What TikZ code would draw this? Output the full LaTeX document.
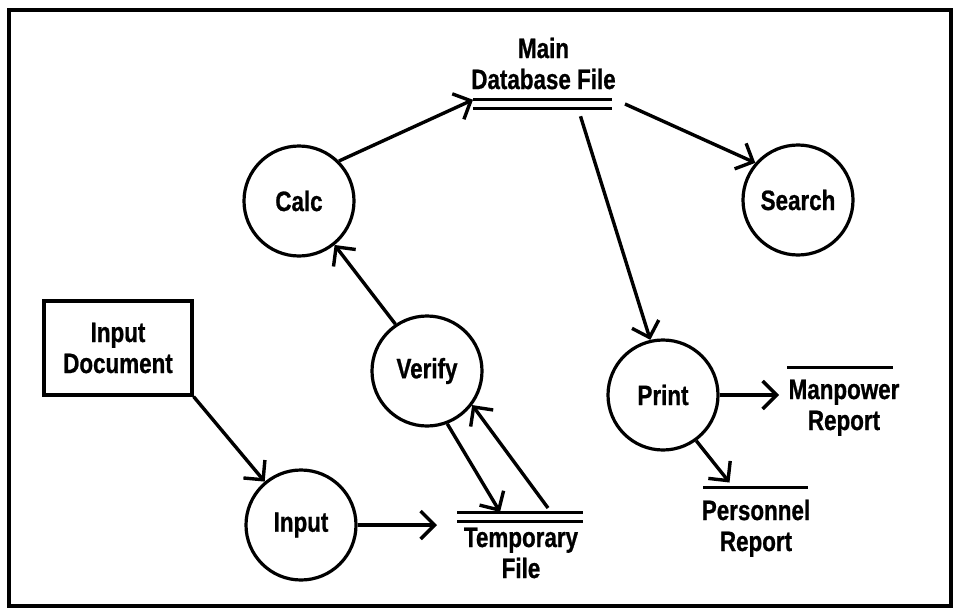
\documentclass[tikz,border=0pt]{standalone}
\usepackage{fontspec}
\setmainfont{Liberation Sans}[FakeStretch=0.8,BoldFeatures={FakeBold=0.8}]
\usetikzlibrary{arrows.meta}
\begin{document}
\begin{tikzpicture}[x=1pt,y=-1pt,
  every node/.style={font=\fontsize{28}{31}\selectfont\bfseries},
  proc/.style={circle,draw,line width=3.2pt,minimum size=110pt,inner sep=0pt},
  store/.style={rectangle,draw=none,inner sep=0pt,outer sep=0pt},
  storeline/.style={line width=3pt},
  flow/.style={line width=3.4pt,-{Straight Barb[length=14pt,width=28pt]}},
  lbl/.style={align=center,inner sep=0pt,anchor=base}]
\useasboundingbox (0,0) rectangle (957,610);
% outer frame
\draw[line width=4.5pt] (9,10) rectangle (951,606);

% processes
\node[proc] (calc)   at (299,201) {Calc};
\node[proc] (search) at (798,200) {Search};
\node[proc] (verify) at (427,371) {Verify};
\node[proc] (print)  at (663,395) {Print};
\node[proc] (input)  at (301,525) {Input};

% external entity
\node[draw,line width=3.2pt,align=center,inner sep=0pt,minimum width=148pt,minimum height=94pt] (doc) at (118,348) {Input\\Document};

% data stores
\node[store,minimum width=139pt,minimum height=8.5pt] (db) at (542.5,104) {};
\draw[storeline] (db.north west) -- (db.north east) (db.south west) -- (db.south east);
\node[store,minimum width=126pt,minimum height=9pt] (tmp) at (520,516.5) {};
\draw[storeline] (tmp.north west) -- (tmp.north east) (tmp.south west) -- (tmp.south east);
\node[store,minimum width=106pt] (mp) at (840,367) {};
\draw[storeline] (mp.west) -- (mp.east);
\node[store,minimum width=105pt] (pr) at (755.5,487) {};
\draw[storeline] (pr.west) -- (pr.east);

% store labels (anchored on the baseline of their last line)
\node[lbl] (dbtext)  at (543.5,89) {Main\\Database File};
\node[lbl] (tmptext) at (521,578)  {Temporary\\File};
\node[lbl] (mptext)  at (844,430)  {Manpower\\Report};
\node[lbl] (prtext)  at (756,551)  {Personnel\\Report};

% data flows
\draw[flow] (doc.south east) -- (input);
\draw[flow] (input.east) -- ([xshift=-20pt]tmp.west |- input.east);
\draw[flow] (verify.-69) -- ([xshift=43pt]tmp.north west);
\draw[flow] ([xshift=-35pt,yshift=4pt]tmp.north east) -- (verify.-37);
\draw[flow] (verify.124) -- (calc.-51);
\draw[flow] (calc.45) -- (db.north west);
\draw[flow] ([xshift=38pt,yshift=-8pt]db.south) -- (print.103);
\draw[flow] ([xshift=13pt]db.east) -- (search.139);
\draw[flow] (print.east) -- ([xshift=-8pt]mp.west |- print.east);
\draw[flow] (print.-54) -- ([xshift=-26pt,yshift=4pt]pr.north);
\end{tikzpicture}
\end{document}
